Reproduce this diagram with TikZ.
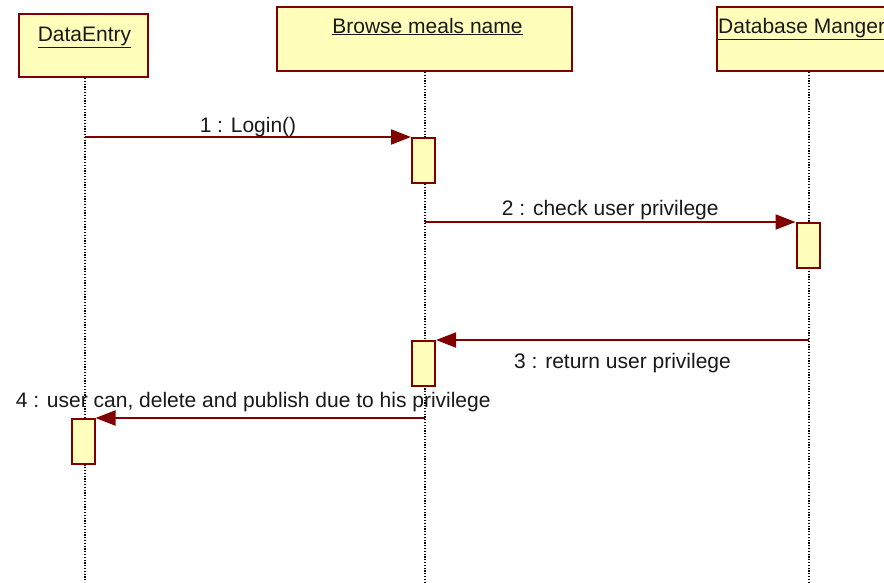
\documentclass[tikz,border=0pt]{standalone}
\usepackage{fontspec}
\setmainfont{Liberation Sans}
\usetikzlibrary{arrows.meta}
\definecolor{umlred}{RGB}{128,0,0}
\definecolor{umlfill}{RGB}{255,255,187}
\begin{document}
\begin{tikzpicture}[x=1pt, y=-1pt]
	\tikzstyle{object}=[rectangle, draw=umlred, fill=umlfill, line width=2pt, anchor=north west, inner sep=0pt]
	\tikzstyle{activation}=[rectangle, draw=umlred, fill=umlfill, line width=2pt, minimum width=23pt, minimum height=45pt, anchor=north, inner sep=0pt]
	\tikzstyle{lifeline}=[line width=1.2pt, dash pattern=on 1.2pt off 1.6pt]
	\tikzstyle{message}=[-{Triangle[length=20pt, width=15pt]}, umlred, line width=2pt]
	\tikzstyle{txt}=[font=\fontsize{21}{24}\selectfont, inner sep=0pt, text=black!90, anchor=base]
	\clip (0, 0) rectangle (884, 582);
	\fill[white] (0, 0) rectangle (884, 582);
	
	\draw node at (18, 13) [object, minimum width=129pt, minimum height=63pt] (dataentry) {};
	\draw node at (276, 6) [object, minimum width=295pt, minimum height=64pt] (browse) {};
	\draw node at (716, 6) [object, minimum width=190pt, minimum height=64pt] (dbmanager) {};
	\draw node at (84.5, 41) [txt] (dataentry-name) {\underline{DataEntry}};
	\draw node at (427.5, 33) [txt] (browse-name) {\underline{Browse meals name}};
	\draw node at (718, 33) [txt, anchor=base west] (dbmanager-name) {\underline{Database Manger}};
	
	\coordinate (dataentry-end) at (85, 582);
	\coordinate (browse-end) at (425, 582);
	\coordinate (dbmanager-end) at (809, 582);
	\draw [lifeline] (dataentry-end |- dataentry.south) -- (dataentry-end);
	\draw [lifeline] (browse-end |- browse.south) -- (browse-end);
	\draw [lifeline] (dbmanager-end |- dbmanager.south) -- (dbmanager-end);
	
	\draw node at (423.5, 137) [activation] (act1) {};
	\draw node at (808, 222) [activation] (act2) {};
	\draw node at (423.5, 340) [activation] (act3) {};
	\draw node at (83, 418) [activation] (act4) {};
	
	\coordinate (m1) at (85, 137);
	\coordinate (m2) at (425, 222);
	\coordinate (m3) at (809, 340);
	\coordinate (m4) at (425, 418);
	\draw [message] (m1) -- (act1.north west) node[txt, pos=.5, yshift=5pt] {1 : Login()};
	\draw [message] (m2) -- (act2.north west) node[txt, pos=.5, yshift=7pt] {2 : check user privilege};
	\draw [message] (m3) -- (act3.north east) node[txt, pos=.5, yshift=-28pt] {3 : return user privilege};
	\draw [message] (m4) -- (act4.north east) node[txt, pos=.5, xshift=-7pt, yshift=11pt] {4 : user can, delete and publish due to his privilege};
\end{tikzpicture}
\end{document}
